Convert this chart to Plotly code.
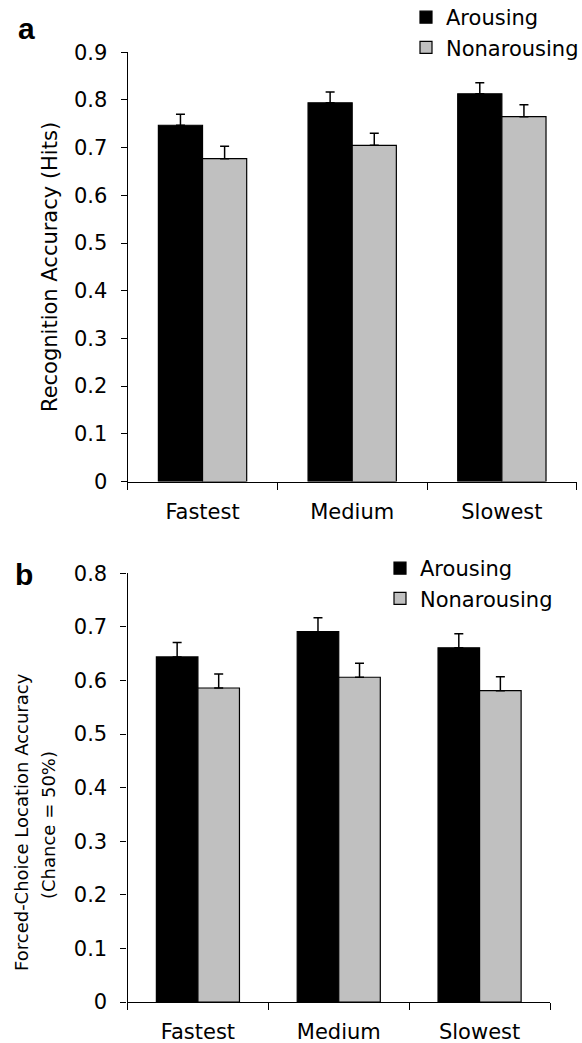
import plotly.graph_objects as go

categories = ["Fastest", "Medium", "Slowest"]
series_names = ["Arousing", "Nonarousing"]

# Panel a: Recognition accuracy (hits)
a_arousing = [0.747, 0.794, 0.813]
a_arousing_err = [0.023, 0.023, 0.023]
a_nonarousing = [0.677, 0.705, 0.765]
a_nonarousing_err = [0.026, 0.025, 0.025]

# Panel b: Forced-choice location accuracy
b_arousing = [0.644, 0.691, 0.661]
b_arousing_err = [0.027, 0.026, 0.026]
b_nonarousing = [0.586, 0.606, 0.581]
b_nonarousing_err = [0.026, 0.026, 0.026]

a_ticks = [0, 0.1, 0.2, 0.3, 0.4, 0.5, 0.6, 0.7, 0.8, 0.9]
b_ticks = [0, 0.1, 0.2, 0.3, 0.4, 0.5, 0.6, 0.7, 0.8]

W, H = 582, 1043
FONT = "DejaVu Sans"
colors = {"Arousing": "#000000", "Nonarousing": "#C0C0C0"}

fig = go.Figure()

def add_bar(name, vals, errs, xa, ya, legend):
    fig.add_trace(go.Bar(
        x=categories, y=vals, name=name,
        marker=dict(color=colors[name], line=dict(color="black", width=1.2)),
        error_y=dict(type="data", array=errs, arrayminus=[0] * len(errs),
                     symmetric=False, color="black", thickness=1.5, width=4.5),
        xaxis=xa, yaxis=ya, legend=legend,
    ))

add_bar("Arousing", a_arousing, a_arousing_err, "x", "y", "legend")
add_bar("Nonarousing", a_nonarousing, a_nonarousing_err, "x", "y", "legend")
add_bar("Arousing", b_arousing, b_arousing_err, "x2", "y2", "legend2")
add_bar("Nonarousing", b_nonarousing, b_nonarousing_err, "x2", "y2", "legend2")

def px_x(p):
    return p / W

def px_y(p):
    return 1 - p / H

xcommon = dict(type="category", showline=True, linecolor="black", linewidth=1.2,
               ticks="outside", ticklen=7, tickwidth=1.2, tickcolor="black",
               tickson="boundaries", showgrid=False, zeroline=False,
               tickfont=dict(family=FONT, size=21, color="black"),
               ticklabelstandoff=11, range=[-0.5, 2.5])
ycommon = dict(showline=True, linecolor="black", linewidth=1.2,
               ticks="outside", ticklen=6, tickwidth=1.2, tickcolor="black",
               showgrid=False, zeroline=False,
               tickfont=dict(family=FONT, size=21, color="black"),
               ticklabelstandoff=9)

fig.update_layout(
    width=W, height=H,
    margin=dict(l=0, r=0, t=0, b=0, autoexpand=False),
    paper_bgcolor="white", plot_bgcolor="white",
    barmode="group", bargap=0.41, bargroupgap=0,
    font=dict(family=FONT, size=20, color="black"),
    xaxis=dict(domain=[px_x(127.7), px_x(576.7)], anchor="y", **xcommon),
    xaxis2=dict(domain=[px_x(127.5), px_x(550)], anchor="y2", **xcommon),
    yaxis=dict(domain=[px_y(481.5), px_y(52.3)], anchor="x", range=[0, 0.9],
               tickvals=a_ticks, ticktext=[f"{t:g}" for t in a_ticks], **ycommon),
    yaxis2=dict(domain=[px_y(1002), px_y(573.3)], anchor="x2", range=[0, 0.8],
                tickvals=b_ticks, ticktext=[f"{t:g}" for t in b_ticks], **ycommon),
    legend=dict(x=px_x(406), y=px_y(-3), xanchor="left", yanchor="top",
                font=dict(family=FONT, size=21, color="black"),
                bgcolor="rgba(0,0,0,0)", tracegroupgap=0, itemwidth=30),
    legend2=dict(x=px_x(380), y=px_y(548), xanchor="left", yanchor="top",
                 font=dict(family=FONT, size=21, color="black"),
                 bgcolor="rgba(0,0,0,0)", tracegroupgap=0, itemwidth=30),
    showlegend=True,
)

fig.add_annotation(text="<b>a</b>", x=px_x(26), y=px_y(29), xref="paper", yref="paper",
                   showarrow=False, font=dict(family="Liberation Sans", size=30, color="black"),
                   xanchor="center", yanchor="middle")
fig.add_annotation(text="<b>b</b>", x=px_x(24), y=px_y(574), xref="paper", yref="paper",
                   showarrow=False, font=dict(family="Liberation Sans", size=30, color="black"),
                   xanchor="center", yanchor="middle")
fig.add_annotation(text="Recognition Accuracy (Hits)", x=px_x(50), y=px_y(267),
                   xref="paper", yref="paper", showarrow=False, textangle=-90,
                   font=dict(family=FONT, size=21, color="black"),
                   xanchor="center", yanchor="middle")
fig.add_annotation(text="Forced-Choice Location Accuracy",
                   x=px_x(21), y=px_y(822), xref="paper", yref="paper",
                   showarrow=False, textangle=-90,
                   font=dict(family=FONT, size=18, color="black"),
                   xanchor="center", yanchor="middle")
fig.add_annotation(text="(Chance = 50%)",
                   x=px_x(48), y=px_y(825), xref="paper", yref="paper",
                   showarrow=False, textangle=-90,
                   font=dict(family=FONT, size=18, color="black"),
                   xanchor="center", yanchor="middle")

fig.write_html("out.html")
